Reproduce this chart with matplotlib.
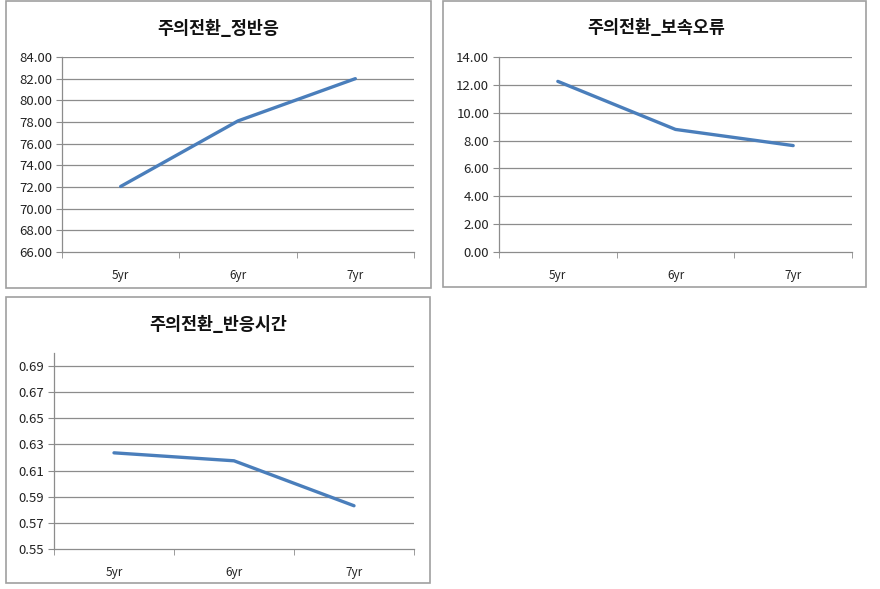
import matplotlib
matplotlib.use('Agg')
import matplotlib.pyplot as plt
from matplotlib.patches import Rectangle
from matplotlib.ticker import FixedLocator

plt.rcParams['font.family'] = ['Noto Sans CJK KR', 'DejaVu Sans']

# 데이터
categories = ['5yr', '6yr', '7yr']

correct_title = '주의전환_정반응'
correct_values = [72.05, 78.1, 82.0]
correct_ticks = [66, 68, 70, 72, 74, 76, 78, 80, 82, 84]

persev_title = '주의전환_보속오류'
persev_values = [12.25, 8.8, 7.64]
persev_ticks = [0, 2, 4, 6, 8, 10, 12, 14]

rt_title = '주의전환_반응시간'
rt_values = [0.6236, 0.6175, 0.5831]
rt_ticks = [0.55, 0.57, 0.59, 0.61, 0.63, 0.65, 0.67, 0.69]

W, H = 880, 589
LINE = '#4a7ebb'
GRID = '#8c8c8c'


def fx(px):
    return px / W


def fy(py):
    return 1 - py / H


def draw_chart(fig, box, plot, title, title_pos, values, ticks, ylim, fmt):
    # 차트 외곽선
    x0, y0, x1, y1 = box
    fig.add_artist(Rectangle((fx(x0), fy(y1)), fx(x1 - x0), (y1 - y0) / H,
                             transform=fig.transFigure, fill=False,
                             edgecolor='#a0a0a0', linewidth=1.2))
    fig.text(fx(title_pos[0]), fy(title_pos[1]), title, ha='center', va='center',
             fontsize=12.5, fontweight='bold', color='#111111')

    l, t, r, b = plot
    ax = fig.add_axes([fx(l), fy(b), fx(r - l), (b - t) / H])
    x = list(range(len(categories)))
    ax.plot(x, values, color=LINE, linewidth=2.4, solid_capstyle='round')
    ax.set_xlim(-0.5, len(categories) - 0.5)
    ax.set_ylim(*ylim)

    ax.set_yticks(ticks)
    ax.set_yticklabels([fmt.format(v) for v in ticks])
    for v in ticks:
        if v > ylim[0]:
            ax.axhline(v, color=GRID, linewidth=0.9, zorder=0)

    ax.set_xticks(x)
    ax.set_xticklabels(categories)
    ax.xaxis.set_minor_locator(FixedLocator([i - 0.5 for i in range(len(categories) + 1)]))
    ax.tick_params(axis='x', which='major', length=0, pad=12, labelsize=8.5, labelcolor='#222222')
    ax.tick_params(axis='x', which='minor', length=4, color=GRID, direction='out')
    ax.tick_params(axis='y', length=4, color=GRID, direction='out', pad=3,
                   labelsize=9.5, labelcolor='#222222')

    for side in ['top', 'right']:
        ax.spines[side].set_visible(False)
    for side in ['left', 'bottom']:
        ax.spines[side].set_color(GRID)
        ax.spines[side].set_linewidth(0.9)
    ax.patch.set_alpha(0)
    return ax


fig = plt.figure(figsize=(8.8, 5.89), dpi=100)

draw_chart(fig, (6, 1, 431, 288), (62, 57, 414, 252), correct_title, (218, 29),
           correct_values, correct_ticks, (66, 84), '{:.2f}')
draw_chart(fig, (443, 1, 866, 287), (499, 57, 852, 252), persev_title, (656, 28),
           persev_values, persev_ticks, (0, 14), '{:.2f}')
draw_chart(fig, (6, 297, 430, 583), (54, 353, 414, 549), rt_title, (218, 325),
           rt_values, rt_ticks, (0.55, 0.70), '{:.2f}')

fig.savefig('out.png', dpi=100)
